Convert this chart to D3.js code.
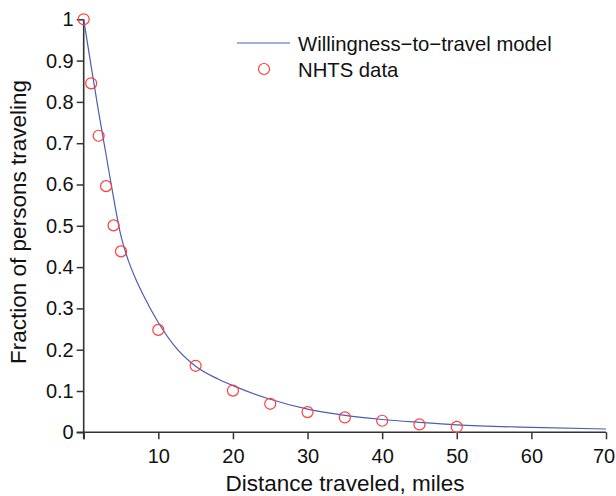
<!DOCTYPE html>
<html><head><meta charset="utf-8">
<script src="https://cdn.jsdelivr.net/npm/d3@7"></script>
<style>
html,body{margin:0;padding:0;background:#fff;}
svg{display:block;font-family:Arial,"Liberation Sans",sans-serif;}
</style></head>
<body>
<svg id="chart" width="616" height="496"></svg>
<script>
// Data
const dataX = [0, 1, 2, 3, 4, 5, 10, 15, 20, 25, 30, 35, 40, 45, 50];
const dataY = [1.0, 0.845, 0.718, 0.596, 0.501, 0.438, 0.248, 0.161, 0.101, 0.069, 0.049, 0.036, 0.028, 0.019, 0.013];
const modelX = [0, 1, 2, 3, 4, 5, 6, 7, 8, 10, 12, 15, 18, 20, 25, 30, 35, 40, 45, 50, 60, 70];
const modelY = [1, 0.886, 0.776, 0.672, 0.568, 0.475, 0.415, 0.37, 0.332, 0.266, 0.213, 0.16, 0.129, 0.113, 0.080, 0.056, 0.041, 0.031, 0.024, 0.018, 0.012, 0.008];
const xTicks = [0, 10, 20, 30, 40, 50, 60, 70];
const xTickLabels = ["", "10", "20", "30", "40", "50", "60", "70"];
const yTicks = [0, 0.1, 0.2, 0.3, 0.4, 0.5, 0.6, 0.7, 0.8, 0.9, 1];
const yTickLabels = ["0", "0.1", "0.2", "0.3", "0.4", "0.5", "0.6", "0.7", "0.8", "0.9", "1"];
const legendLabels = ["Willingness\u2212to\u2212travel model", "NHTS data"];
const xTitle = "Distance traveled, miles";
const yTitle = "Fraction of persons traveling";

const svg = d3.select("#chart");
const x = d3.scaleLinear().domain([0, 70]).range([83.7, 606]);
const y = d3.scaleLinear().domain([0, 1]).range([432.3, 19.3]);
const axisColor = "#333";

// axes
const xAxis = svg.append("g").attr("transform", `translate(0,${y(0)})`)
  .call(d3.axisBottom(x).tickValues(xTicks).tickSize(7).tickSizeOuter(0)
        .tickFormat((d, i) => xTickLabels[i]));
xAxis.select(".domain").remove();
xAxis.selectAll(".tick line").attr("stroke", axisColor).attr("stroke-width", 1.5);
xAxis.selectAll(".tick text").attr("font-size", 20).attr("fill", "#111").attr("y", 13).attr("dy", "0.9em")
  .attr("x", d => d === 70 ? -2.5 : 0);

const yAxis = svg.append("g").attr("transform", `translate(${x(0)},0)`)
  .call(d3.axisLeft(y).tickValues(yTicks).tickSize(7).tickSizeOuter(0)
        .tickFormat((d, i) => yTickLabels[i]));
yAxis.select(".domain").remove();
yAxis.selectAll(".tick line").attr("stroke", axisColor).attr("stroke-width", 1.5);
yAxis.selectAll(".tick text").attr("font-size", 20).attr("fill", "#111").attr("x", -10);

svg.append("line").attr("x1", x(0) - 7).attr("x2", x(70)).attr("y1", y(0)).attr("y2", y(0))
  .attr("stroke", axisColor).attr("stroke-width", 1.6);
svg.append("line").attr("x1", x(0)).attr("x2", x(0)).attr("y1", y(0) + 7).attr("y2", y(1))
  .attr("stroke", axisColor).attr("stroke-width", 1.6);

// model line
const model = modelX.map((d, i) => [d, modelY[i]]);
svg.append("path").datum(model)
  .attr("fill", "none").attr("stroke", "#4d5cb4").attr("stroke-width", 1.2)
  .attr("d", d3.line().x(d => x(d[0])).y(d => y(d[1])).curve(d3.curveMonotoneX));

// data points
const pts = dataX.map((d, i) => [d, dataY[i]]);
svg.append("g").selectAll("circle").data(pts).join("circle")
  .attr("cx", d => x(d[0])).attr("cy", d => y(d[1])).attr("r", 5.5)
  .attr("fill", "none").attr("stroke", "#ff3b3b").attr("stroke-width", 1.2);

// legend
const lg = svg.append("g");
lg.append("line").attr("x1", 237).attr("x2", 290).attr("y1", 43).attr("y2", 43)
  .attr("stroke", "#4d5cb4").attr("stroke-width", 1.2);
lg.append("circle").attr("cx", 264).attr("cy", 69).attr("r", 5.5)
  .attr("fill", "none").attr("stroke", "#ff3b3b").attr("stroke-width", 1.2);
lg.selectAll("text").data(legendLabels).join("text")
  .attr("x", 298).attr("y", (d, i) => 50.5 + i * 26)
  .attr("font-size", 20.3).attr("fill", "#111").text(d => d);

// titles
svg.append("text").attr("x", 345).attr("y", 491).attr("text-anchor", "middle")
  .attr("font-size", 22.5).attr("fill", "#111").text(xTitle);
svg.append("text").attr("transform", `translate(26,222) rotate(-90)`).attr("text-anchor", "middle")
  .attr("font-size", 22.5).attr("fill", "#111").text(yTitle);
</script>
</body></html>
